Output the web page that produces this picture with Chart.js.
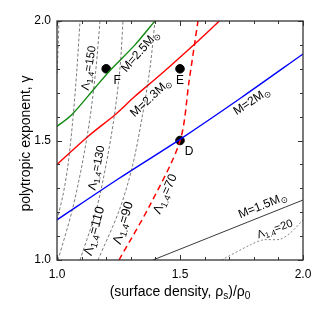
<!DOCTYPE html>
<html><head><meta charset="utf-8">
<script src="https://cdn.jsdelivr.net/npm/chart.js@4/dist/chart.umd.min.js"></script>
<style>html,body{margin:0;padding:0;background:#fff}canvas{display:block}</style>
</head><body>
<canvas id="c" width="314" height="314" style="width:314px;height:314px"></canvas>
<script>
// ---- data ----
const tickValues = [1.0, 1.5, 2.0];
const minorTickValues = [1.0, 1.1, 1.2, 1.3, 1.4, 1.5, 1.6, 1.7, 1.8, 1.9, 2.0];

// mass contours (solid)
const m25X = [1.0, 1.06, 1.154, 1.222, 1.317, 1.398];
const m25Y = [1.559, 1.608, 1.720, 1.80, 1.90, 2.0];
const m23X = [1.0, 1.127, 1.236, 1.317, 1.42, 1.561, 1.66];
const m23Y = [1.40, 1.518, 1.608, 1.685, 1.775, 1.905, 2.0];
const m20X = [1.0, 1.25, 1.5, 1.75, 2.0];
const m20Y = [1.168, 1.34, 1.505, 1.68, 1.862];
const m15X = [1.39, 2.0];
const m15Y = [1.0, 1.251];

// tidal deformability contours (dashed)
const lam70X = [1.252, 1.378, 1.5, 1.537, 1.573];
const lam70Y = [1.0, 1.23, 1.498, 1.749, 2.0];
const lam20X = [1.669, 1.785, 1.837, 1.907, 1.947, 2.0];
const lam20Y = [1.0, 1.063, 1.084, 1.087, 1.112, 1.167];
const lam170X = [1.0, 1.003, 1.008];
const lam170Y = [1.78, 1.85, 2.0];
const lam150X = [1.0, 1.0244, 1.0447, 1.065, 1.0813, 1.0935];
const lam150Y = [1.1674, 1.272, 1.3975, 1.5941, 1.8033, 2.0];
const lam130X = [1.0041, 1.061, 1.1016, 1.1341, 1.1585, 1.1748];
const lam130Y = [1.0, 1.205, 1.3975, 1.5941, 1.8033, 2.0];
const lam110X = [1.0935, 1.1585, 1.1992, 1.2317, 1.2561, 1.2683];
const lam110Y = [1.0, 1.205, 1.3975, 1.5941, 1.8033, 2.0];
const lam90X = [1.1667, 1.252, 1.3049, 1.3455, 1.378, 1.3984];
const lam90Y = [1.0, 1.205, 1.3849, 1.5941, 1.8033, 2.0];

// models
const modelNames = ['D', 'E', 'F'];
const modelX = [1.5, 1.5, 1.2];
const modelY = [1.5, 1.8, 1.8];

// ---- helpers ----
const FONT = '"Liberation Sans", Arial, Helvetica, sans-serif';
function pts(xs, ys) { return xs.map((x, i) => ({x: x, y: ys[i]})); }
function lineDs(xs, ys, color, width, dash) {
  return {type: 'line', data: pts(xs, ys), borderColor: color, borderWidth: width,
    borderDash: dash || [], pointRadius: 0, tension: 0.3, fill: false, showLine: true};
}

// text annotations (label text with _{sub}, anchor in data coords, angle, size)
const notes = [
  {t: 'M=2.5M_{⊙}', x: 1.34, y: 1.874, a: -49, s: 12},
  {t: 'M=2.3M_{⊙}', x: 1.383, y: 1.680, a: -43, s: 12},
  {t: 'M=2M_{⊙}', x: 1.793, y: 1.665, a: -33, s: 12},
  {t: 'M=1.5M_{⊙}', x: 1.837, y: 1.228, a: -22, s: 12},
  {t: 'Λ_{1.4}=20', x: 1.886, y: 1.128, a: -20, s: 11},
  {t: 'Λ_{1.4}=150', x: 1.130, y: 1.803, a: -81, s: 11.5},
  {t: 'Λ_{1.4}=130', x: 1.162, y: 1.385, a: -78, s: 11.5},
  {t: 'Λ_{1.4}=110', x: 1.152, y: 1.121, a: -75, s: 13},
  {t: 'Λ_{1.4}=90', x: 1.270, y: 1.155, a: -73, s: 13},
  {t: 'Λ_{1.4}=70', x: 1.441, y: 1.276, a: -66, s: 12.5}
];
const pointLabelOffsets = [[9, 11], [0, 12], [11, 12]];

function parseParts(str) {
  const parts = [];
  const re = /_\{([^}]*)\}/g;
  let last = 0, m;
  while ((m = re.exec(str)) !== null) {
    if (m.index > last) parts.push({t: str.slice(last, m.index), sub: false});
    parts.push({t: m[1], sub: true});
    last = re.lastIndex;
  }
  if (last < str.length) parts.push({t: str.slice(last), sub: false});
  return parts;
}
function drawRich(ctx, str, cx, cy, angle, size, color) {
  const parts = parseParts(str);
  ctx.save();
  ctx.translate(cx, cy);
  ctx.rotate(angle * Math.PI / 180);
  ctx.fillStyle = color || '#000';
  ctx.textBaseline = 'middle';
  ctx.textAlign = 'left';
  let w = 0;
  for (const p of parts) {
    const s = p.sub ? size * 0.72 : size;
    ctx.font = s + 'px ' + FONT;
    w += ctx.measureText(p.t).width;
  }
  let x = -w / 2;
  for (const p of parts) {
    const s = p.sub ? size * 0.72 : size;
    ctx.font = s + 'px ' + FONT;
    ctx.fillText(p.t, x, p.sub ? size * 0.3 : 0);
    x += ctx.measureText(p.t).width;
  }
  ctx.restore();
}

const decor = {
  id: 'decor',
  afterDatasetsDraw(chart) {
    const ctx = chart.ctx, xs = chart.scales.x, ys = chart.scales.y, ca = chart.chartArea;
    for (const n of notes) {
      drawRich(ctx, n.t, xs.getPixelForValue(n.x), ys.getPixelForValue(n.y), n.a, n.s, '#000');
    }
    modelNames.forEach((name, i) => {
      const px = xs.getPixelForValue(modelX[i]) + pointLabelOffsets[i][0];
      const py = ys.getPixelForValue(modelY[i]) + pointLabelOffsets[i][1];
      drawRich(ctx, name, px, py, 0, 12, '#000');
    });
    ctx.save();
    ctx.strokeStyle = '#333';
    ctx.lineWidth = 1.3;
    ctx.strokeRect(ca.left, ca.top, ca.right - ca.left, ca.bottom - ca.top);
    ctx.lineWidth = 1;
    ctx.beginPath();
    for (const v of minorTickValues) {
      const major = tickValues.some(t => Math.abs(t - v) < 1e-9);
      const len = major ? 5 : 3;
      const px = Math.round(xs.getPixelForValue(v)) + 0.5;
      const py = Math.round(ys.getPixelForValue(v)) + 0.5;
      ctx.moveTo(px, ca.bottom); ctx.lineTo(px, ca.bottom - len);
      ctx.moveTo(px, ca.top); ctx.lineTo(px, ca.top + len);
      ctx.moveTo(ca.left, py); ctx.lineTo(ca.left + len, py);
      ctx.moveTo(ca.right, py); ctx.lineTo(ca.right - len, py);
    }
    ctx.stroke();
    ctx.restore();
    drawRich(ctx, '(surface density, ρ_{s})/ρ_{0}', (ca.left + ca.right) / 2, ca.bottom + 32, 0, 14, '#000');
    drawRich(ctx, 'polytropic exponent, γ', 26, (ca.top + ca.bottom) / 2 + 3, -90, 14, '#000');
  }
};

const datasets = [
  lineDs(lam170X, lam170Y, '#444', 0.7, [3, 2]),
  lineDs(lam150X, lam150Y, '#444', 0.7, [3, 2]),
  lineDs(lam130X, lam130Y, '#444', 0.7, [3, 2]),
  lineDs(lam110X, lam110Y, '#444', 0.7, [3, 2]),
  lineDs(lam90X, lam90Y, '#444', 0.7, [3, 2]),
  lineDs(lam20X, lam20Y, '#666', 0.8, [2, 2]),
  lineDs(m15X, m15Y, '#222', 0.9),
  lineDs(m25X, m25Y, '#138a13', 1.4),
  lineDs(m23X, m23Y, '#ff0000', 1.4),
  lineDs(m20X, m20Y, '#0000ff', 1.4),
  lineDs(lam70X, lam70Y, '#ff0000', 1.5, [6, 4]),
  {type: 'scatter', data: pts(modelX, modelY), pointRadius: 4.3, pointBackgroundColor: '#000',
    pointBorderColor: '#000', showLine: false}
];

new Chart(document.getElementById('c'), {
  type: 'scatter',
  data: {datasets: datasets},
  options: {
    responsive: false,
    animation: false,
    layout: {autoPadding: false, padding: {top: 21, right: 11, left: 0, bottom: 0}},
    plugins: {legend: {display: false}, tooltip: {enabled: false}},
    scales: {
      x: {
        type: 'linear', min: 1, max: 2,
        afterFit(s) { s.height = 54; s.paddingLeft = 0; s.paddingRight = 0; },
        grid: {display: false, drawTicks: false},
        border: {display: false},
        afterBuildTicks(s) { s.ticks = tickValues.map(v => ({value: v})); },
        ticks: {padding: 7, color: '#000', maxRotation: 0, autoSkip: false,
          font: {size: 12, family: FONT}, callback: v => Number(v).toFixed(1)}
      },
      y: {
        type: 'linear', min: 1, max: 2,
        afterFit(s) { s.width = 57; s.paddingTop = 0; s.paddingBottom = 0; },
        grid: {display: false, drawTicks: false},
        border: {display: false},
        afterBuildTicks(s) { s.ticks = tickValues.map(v => ({value: v})); },
        ticks: {padding: 6, color: '#000', autoSkip: false,
          font: {size: 12, family: FONT}, callback: v => Number(v).toFixed(1)}
      }
    }
  },
  plugins: [decor]
});
</script>
</body></html>
